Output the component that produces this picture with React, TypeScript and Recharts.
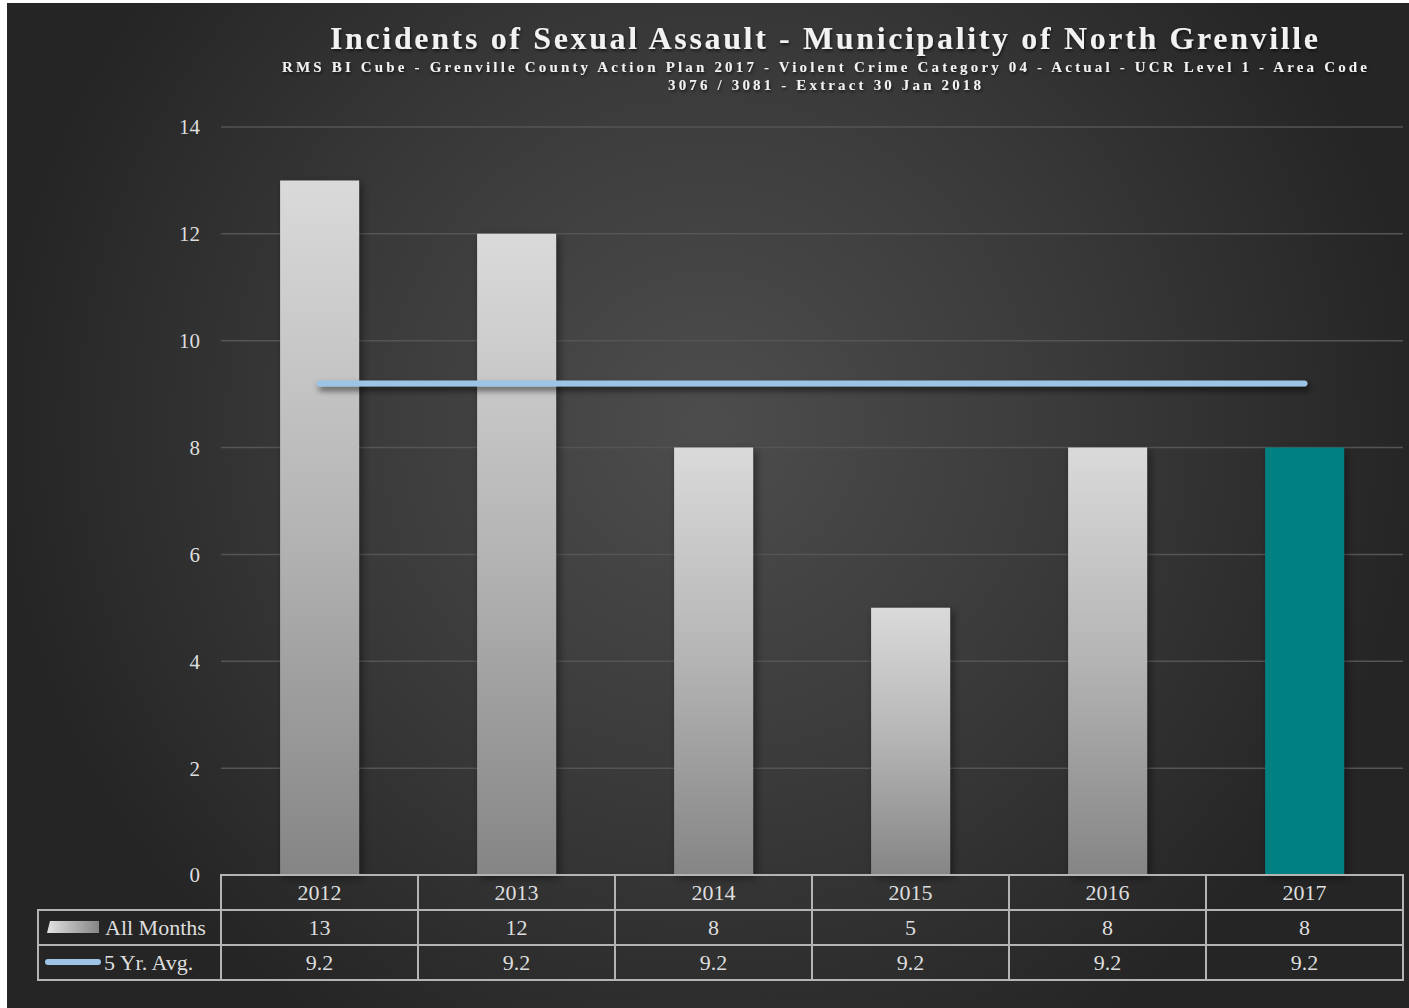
import React from 'react';
import { ComposedChart, Bar, Line, XAxis, YAxis, CartesianGrid, Cell } from 'recharts';

const years = ['2012', '2013', '2014', '2015', '2016', '2017'];
const allMonths = [13, 12, 8, 5, 8, 8];
const fiveYrAvg = [9.2, 9.2, 9.2, 9.2, 9.2, 9.2];
const yTicks = [0, 2, 4, 6, 8, 10, 12, 14];

const TITLE = 'Incidents of Sexual Assault - Municipality of North Grenville';
const SUB1 = 'RMS BI Cube - Grenville County Action Plan 2017 - Violent Crime Category 04 - Actual - UCR Level 1 - Area Code';
const SUB2 = '3076 / 3081 - Extract 30 Jan 2018';

const W = 1402;
const H = 1005;
const MARGIN = { top: 124, right: 6, left: 0, bottom: 28 };
const Y_AXIS_W = 214;
const PLOT_W = W - MARGIN.left - MARGIN.right - Y_AXIS_W;
const CELL_W = PLOT_W / years.length;
const ROW_H = 35;
const LEGEND_W = 183;

const FONT = '"Liberation Serif", "Times New Roman", serif';
const TEXT = '#dedede';
const BORDER = '#b4b4b4';
const AVG_COLOR = '#9dc3e6';
const TEAL = '#008080';

const data = years.map((year, i) => ({ year, allMonths: allMonths[i], avg: fiveYrAvg[i] }));

const TableTick = (props: any) => {
  const { x, y, payload, index } = props;
  const x0 = x - CELL_W / 2;
  const i = index;
  return (
    <g>
      {/* year row + value rows */}
      <rect x={x0} y={y} width={CELL_W} height={ROW_H * 3} fill="none" stroke={BORDER} strokeWidth={2} />
      <line x1={x0} x2={x0 + CELL_W} y1={y + ROW_H} y2={y + ROW_H} stroke={BORDER} strokeWidth={2} />
      <line x1={x0} x2={x0 + CELL_W} y1={y + ROW_H * 2} y2={y + ROW_H * 2} stroke={BORDER} strokeWidth={2} />
      <text x={x} y={y + 25} textAnchor="middle" fill={TEXT} fontFamily={FONT} fontSize={22}>{payload.value}</text>
      <text x={x} y={y + ROW_H + 25} textAnchor="middle" fill={TEXT} fontFamily={FONT} fontSize={22}>{allMonths[i]}</text>
      <text x={x} y={y + ROW_H * 2 + 25} textAnchor="middle" fill={TEXT} fontFamily={FONT} fontSize={22}>{fiveYrAvg[i].toFixed(1)}</text>
      {i === 0 && (
        <g>
          <rect x={x0 - LEGEND_W} y={y + ROW_H} width={LEGEND_W} height={ROW_H * 2} fill="none" stroke={BORDER} strokeWidth={2} />
          <line x1={x0 - LEGEND_W} x2={x0} y1={y + ROW_H * 2} y2={y + ROW_H * 2} stroke={BORDER} strokeWidth={2} />
          <polygon
            points={`${x0 - LEGEND_W + 9},${y + ROW_H + 23} ${x0 - LEGEND_W + 12},${y + ROW_H + 11} ${x0 - LEGEND_W + 61},${y + ROW_H + 11} ${x0 - LEGEND_W + 61},${y + ROW_H + 23}`}
            fill="url(#legendGrad)"
          />
          <text x={x0 - LEGEND_W + 67} y={y + ROW_H + 25} fill={TEXT} fontFamily={FONT} fontSize={22}>All Months</text>
          <line x1={x0 - LEGEND_W + 10} x2={x0 - LEGEND_W + 60} y1={y + ROW_H * 2 + 17} y2={y + ROW_H * 2 + 17} stroke={AVG_COLOR} strokeWidth={6} strokeLinecap="round" />
          <text x={x0 - LEGEND_W + 66} y={y + ROW_H * 2 + 25} fill={TEXT} fontFamily={FONT} fontSize={22}>5 Yr. Avg.</text>
        </g>
      )}
    </g>
  );
};

export default function App() {
  return (
    <div
      style={{
        position: 'absolute',
        left: 7,
        top: 3,
        width: W,
        height: H,
        background: 'radial-gradient(circle at 50% 42%, #4d4d4d 0%, #3a3a3a 40%, #252525 78%)',
      }}
    >
      <svg width={W} height={110} style={{ position: 'absolute', left: 0, top: 0 }}>
        <defs>
          <filter id="titleShadow" x="-5%" y="-50%" width="110%" height="200%">
            <feDropShadow dx="1" dy="2" stdDeviation="1.5" floodColor="#000" floodOpacity="0.6" />
          </filter>
        </defs>
        <g filter="url(#titleShadow)" fill="#f2f2f2" fontFamily={FONT} fontWeight="bold">
          <text x={323} y={46} fontSize={32} textLength={988} lengthAdjust="spacing">{TITLE}</text>
          <text x={275} y={69} fontSize={15} textLength={1085} lengthAdjust="spacing">{SUB1}</text>
          <text x={661} y={87} fontSize={15} textLength={313} lengthAdjust="spacing">{SUB2}</text>
        </g>
      </svg>
      <ComposedChart width={W} height={H} data={data} margin={MARGIN} barCategoryGap="30%">
        <defs>
          <linearGradient id="barGrad" x1="0" y1="0" x2="0" y2="1">
            <stop offset="0%" stopColor="#dadada" />
            <stop offset="50%" stopColor="#b4b4b4" />
            <stop offset="100%" stopColor="#858585" />
          </linearGradient>
          <linearGradient id="legendGrad" x1="0" y1="0" x2="1" y2="0">
            <stop offset="0%" stopColor="#e2e2e2" />
            <stop offset="100%" stopColor="#858585" />
          </linearGradient>
          <filter id="markShadow" x="-20%" y="-20%" width="150%" height="150%">
            <feDropShadow dx="3" dy="3" stdDeviation="4" floodColor="#000" floodOpacity="0.45" />
          </filter>
          <filter id="lineShadow" filterUnits="userSpaceOnUse" x="0" y="0" width={W} height={H}>
            <feDropShadow dx="2" dy="4" stdDeviation="3" floodColor="#000" floodOpacity="0.6" />
          </filter>
        </defs>
        <CartesianGrid vertical={false} stroke="#555555" strokeWidth={1.5} />
        <XAxis
          dataKey="year"
          axisLine={false}
          tickLine={false}
          tickSize={0}
          tickMargin={0}
          height={105}
          interval={0}
          tick={<TableTick />}
        />
        <YAxis
          width={Y_AXIS_W}
          domain={[0, 14]}
          ticks={yTicks}
          axisLine={false}
          tickLine={false}
          tickMargin={15}
          tick={{ fill: TEXT, fontFamily: FONT, fontSize: 21 }}
        />
        <Bar dataKey="allMonths" isAnimationActive={false} style={{ filter: 'url(#markShadow)' }}>
          {data.map((d, i) => (
            <Cell key={d.year} fill={i === data.length - 1 ? TEAL : 'url(#barGrad)'} />
          ))}
        </Bar>
        <Line
          dataKey="avg"
          type="linear"
          stroke={AVG_COLOR}
          strokeWidth={6}
          strokeLinecap="round"
          dot={false}
          activeDot={false}
          isAnimationActive={false}
          style={{ filter: 'url(#lineShadow)' }}
        />
      </ComposedChart>
    </div>
  );
}
